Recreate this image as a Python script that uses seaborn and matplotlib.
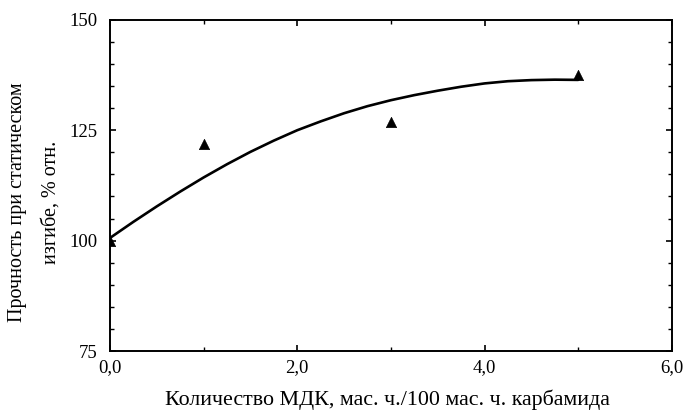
import matplotlib
matplotlib.use("Agg")
import matplotlib.pyplot as plt
import seaborn as sns
import numpy as np
import pandas as pd
from matplotlib.ticker import MultipleLocator, FixedLocator, FixedFormatter

# Experimental points
points_x = [0.0, 1.0, 3.0, 5.0]
points_y = [100.0, 121.8, 126.8, 137.5]

# Trend curve
curve_x = [0.0, 0.25, 0.5, 0.75, 1.0, 1.25, 1.5, 1.75, 2.0, 2.25, 2.5,
           2.75, 3.0, 3.25, 3.5, 3.75, 4.0, 4.25, 4.5, 4.75, 5.0]
curve_y = [100.6, 104.25, 107.75, 111.1, 114.3, 117.3, 120.1, 122.65, 125.0,
           127.0, 128.85, 130.45, 131.8, 132.95, 133.95, 134.85, 135.6,
           136.1, 136.35, 136.45, 136.4]

x_ticks = [0, 2, 4, 6]
x_tick_labels = ["0,0", "2,0", "4,0", "6,0"]
y_ticks = [75, 100, 125, 150]
y_tick_labels = ["75", "100", "125", "150"]

x_label = "Количество МДК, мас. ч./100 мас. ч. карбамида"
y_label = "Прочность при статическом\nизгибе, % отн."

sns.set_style("ticks")
plt.rcParams["font.family"] = ["Liberation Serif", "DejaVu Serif"]

fig = plt.figure(figsize=(6.87, 4.13), dpi=100)
ax = fig.add_axes([0.160, 0.150, 0.818, 0.802])

df_curve = pd.DataFrame({"x": curve_x, "y": curve_y})
df_pts = pd.DataFrame({"x": points_x, "y": points_y})

sns.lineplot(data=df_curve, x="x", y="y", ax=ax, color="black", linewidth=1.9,
             sort=True, estimator=None)
sns.scatterplot(data=df_pts, x="x", y="y", ax=ax, marker="^", color="black",
                s=55, edgecolor="black", linewidth=0.5, zorder=5)

ax.set_xlim(0, 6)
ax.set_ylim(75, 150)
ax.xaxis.set_major_locator(FixedLocator(x_ticks))
ax.xaxis.set_major_formatter(FixedFormatter(x_tick_labels))
ax.yaxis.set_major_locator(FixedLocator(y_ticks))
ax.yaxis.set_major_formatter(FixedFormatter(y_tick_labels))
ax.xaxis.set_minor_locator(MultipleLocator(1))
ax.yaxis.set_minor_locator(MultipleLocator(5))

for s in ax.spines.values():
    s.set_visible(True)
    s.set_linewidth(1.4)
    s.set_color("black")

ax.tick_params(which="both", direction="in", top=True, right=True, colors="black")
ax.tick_params(which="major", length=4, width=1.2, labelsize=13.5, pad=6)
ax.tick_params(axis="y", which="major", pad=9)
ax.tick_params(which="minor", length=3, width=1.0)

ax.set_xlabel(x_label, fontsize=15.8, color="black")
ax.xaxis.label.set_va("center")
ax.xaxis.set_label_coords(0.493, -0.148)

ax.set_ylabel(y_label, fontsize=14.5, color="black", linespacing=2.05)
ax.yaxis.label.set_va("center")
ax.yaxis.set_label_coords(-0.134, 0.45)

fig.savefig("out.png", dpi=100, facecolor="white")
